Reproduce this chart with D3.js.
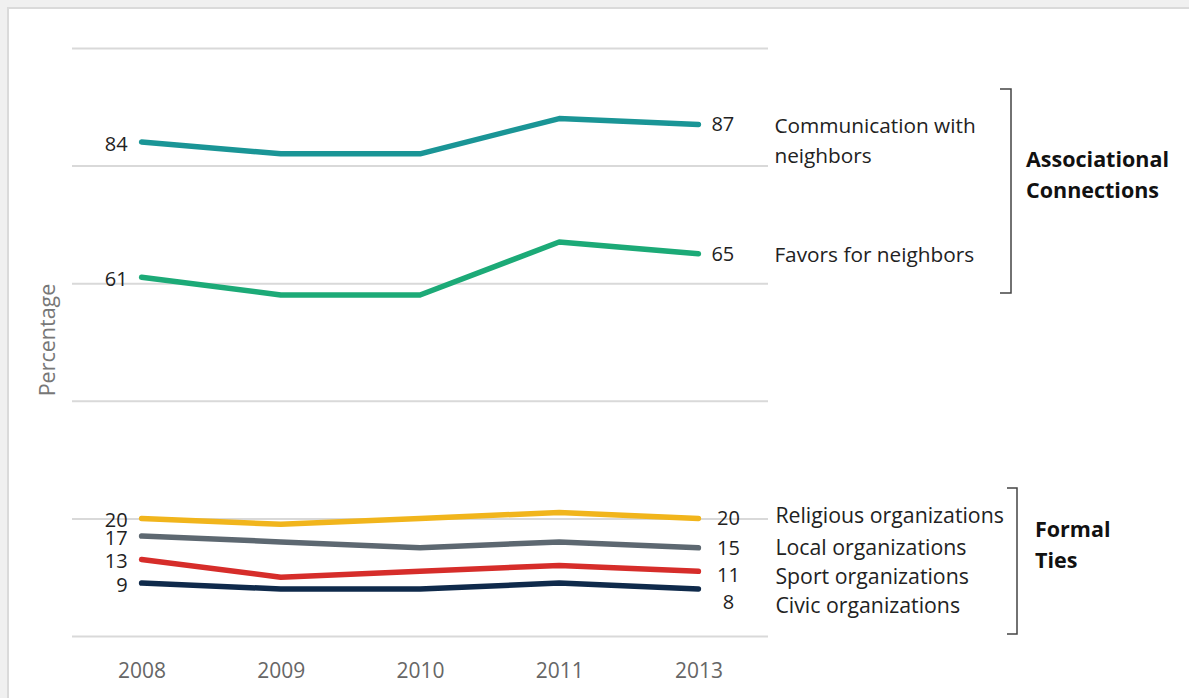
<!DOCTYPE html>
<html>
<head>
<meta charset="utf-8">
<script src="https://cdn.jsdelivr.net/npm/d3@7"></script>
<style>
  html, body { margin: 0; padding: 0; background: #f0f0f0; }
  svg { display: block; font-family: "Open Sans", "Noto Sans", sans-serif; }
</style>
</head>
<body>
<svg id="chart" width="1189" height="698"></svg>
<script>
// ---- data ----
const years = ["2008", "2009", "2010", "2011", "2013"];
const communication = [84, 82, 82, 88, 87];
const favors = [61, 58, 58, 67, 65];
const religious = [20, 19, 20, 21, 20];
const local = [17, 16, 15, 16, 15];
const sport = [13, 10, 11, 12, 11];
const civic = [9, 8, 8, 9, 8];
const yTicks = [0, 20, 40, 60, 80, 100];

const topSeries = [
  { name: ["Communication with", "neighbors"], values: communication, color: "#1a9596" },
  { name: ["Favors for neighbors"], values: favors, color: "#1caa77" }
];
const bottomSeries = [
  { name: "Religious organizations", values: religious, color: "#f1b51c" },
  { name: "Local organizations", values: local, color: "#5d6871" },
  { name: "Sport organizations", values: sport, color: "#d62d2a" },
  { name: "Civic organizations", values: civic, color: "#0f2a4b" }
];
const groupLabels = [["Associational", "Connections"], ["Formal", "Ties"]];

// ---- layout ----
const W = 1189, H = 698;
const svg = d3.select("#chart");

// page panel
svg.append("rect").attr("x", 8).attr("y", 8).attr("width", W).attr("height", H)
  .attr("fill", "#fff").attr("stroke", "#dadada").attr("stroke-width", 2);

const x = d3.scalePoint().domain(years).range([72, 768]).padding(0.5);
const y = d3.scaleLinear().domain([0, 100]).range([636, 48]);

// gridlines
const gy = svg.append("g").attr("transform", "translate(72,0)")
  .call(d3.axisLeft(y).tickValues(yTicks).tickSize(-(768 - 72)).tickFormat(""));
gy.select(".domain").remove();
gy.selectAll(".tick line").attr("stroke", "#d9d9d9").attr("stroke-width", 2);

// x axis labels
const gx = svg.append("g").attr("transform", "translate(0,636)")
  .call(d3.axisBottom(x).tickSize(0).tickPadding(27));
gx.select(".domain").remove();
gx.selectAll("text").attr("fill", "#666").attr("font-size", 21)
  .attr("font-family", "\"Open Sans\", sans-serif");

// y axis title
svg.append("text").attr("transform", "translate(55,340) rotate(-90)")
  .attr("text-anchor", "middle").attr("fill", "#777").attr("font-size", 21.5)
  .text("Percentage");

const line = d3.line().x((d, i) => x(years[i])).y(d => y(d));

const allSeries = topSeries.concat(bottomSeries);
svg.append("g").selectAll("path").data(allSeries).join("path")
  .attr("d", d => line(d.values))
  .attr("fill", "none").attr("stroke", d => d.color).attr("stroke-width", 5.5)
  .attr("stroke-linecap", "round").attr("stroke-linejoin", "round");

// left value labels
svg.append("g").selectAll("text").data(allSeries).join("text")
  .attr("x", x(years[0]) - 14).attr("y", d => y(d.values[0]) + 1.5)
  .attr("dy", "0.35em").attr("text-anchor", "end")
  .attr("fill", "#222").attr("font-size", 20)
  .text(d => d.values[0]);

const last = years.length - 1;
const xEnd = x(years[last]);

// top group right labels
const tg = svg.append("g");
topSeries.forEach(s => {
  const yy = y(s.values[last]);
  tg.append("text").attr("x", xEnd + 13).attr("y", yy).attr("dy", "0.35em")
    .attr("fill", "#222").attr("font-size", 20).text(s.values[last]);
  s.name.forEach((n, k) => {
    tg.append("text").attr("x", xEnd + 76).attr("y", yy + 1 + k * 30).attr("dy", "0.35em")
      .attr("fill", "#222").attr("font-size", 20.8).text(n);
  });
});

// bottom group right labels with simple collision avoidance
function spread(vals, start, gap) {
  const out = [];
  vals.forEach((v, i) => {
    let p = y(v) + (i === 0 ? start : 0);
    if (i > 0 && p < out[i - 1] + gap) p = out[i - 1] + gap;
    out.push(p);
  });
  return out;
}
const endVals = bottomSeries.map(s => s.values[last]);
const valPos = spread(endVals, 0, 27);
const namePos = spread(endVals, -3, 29);
const bg = svg.append("g");
bottomSeries.forEach((s, i) => {
  bg.append("text").attr("x", xEnd + 30).attr("y", valPos[i]).attr("dy", "0.35em")
    .attr("text-anchor", "middle").attr("fill", "#222").attr("font-size", 20)
    .text(s.values[last]);
  bg.append("text").attr("x", xEnd + 77).attr("y", namePos[i]).attr("dy", "0.35em")
    .attr("fill", "#222").attr("font-size", 21.3).text(s.name);
});

// brackets
const brackets = [
  { x0: 1000, x1: 1011, y0: 89, y1: 293, lx: 1026, ly: 167 },
  { x0: 1007, x1: 1017, y0: 488, y1: 634, lx: 1035, ly: 537 }
];
brackets.forEach((b, i) => {
  svg.append("path")
    .attr("d", `M${b.x0},${b.y0}H${b.x1}V${b.y1}H${b.x0}`)
    .attr("fill", "none").attr("stroke", "#444").attr("stroke-width", 1.5);
  groupLabels[i].forEach((t, k) => {
    svg.append("text").attr("x", b.lx).attr("y", b.ly + k * 31)
      .attr("font-weight", "bold").attr("font-size", 21.5).attr("fill", "#111").text(t);
  });
});
</script>
</body>
</html>
